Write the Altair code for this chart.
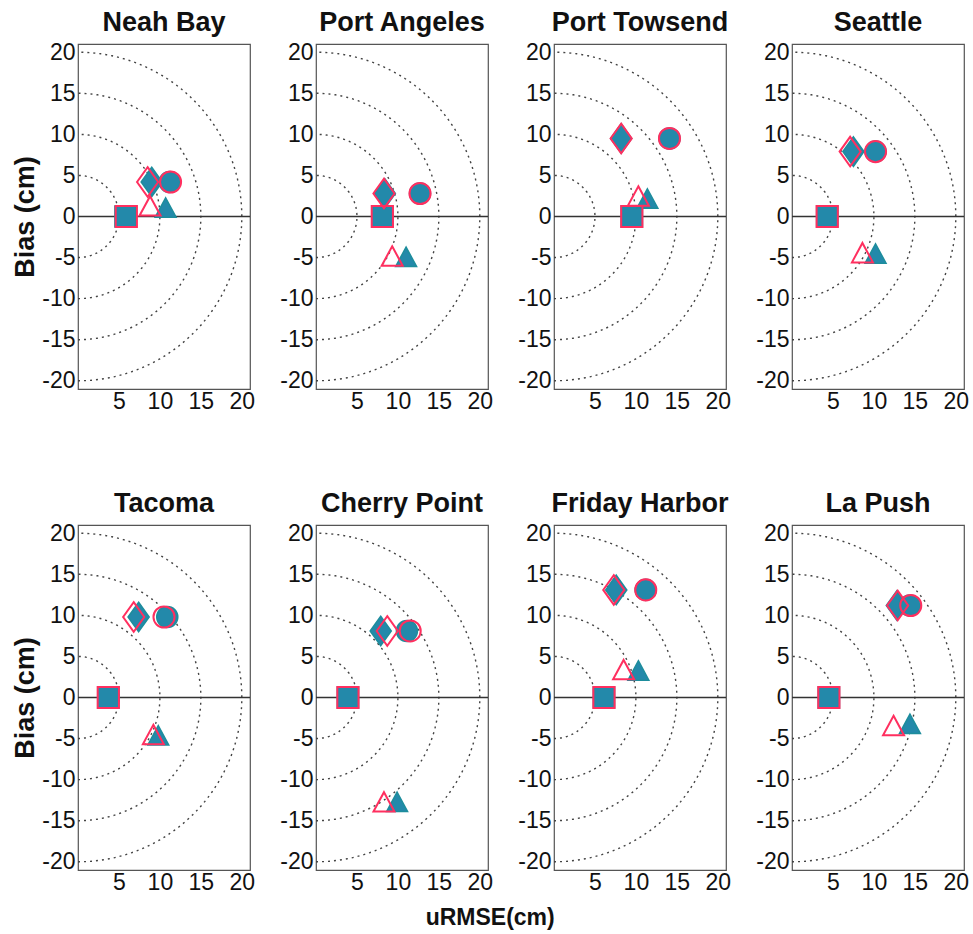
import altair as alt
import numpy as np
import pandas as pd

stations = ["Neah Bay", "Port Angeles", "Port Towsend", "Seattle",
            "Tacoma", "Cherry Point", "Friday Harbor", "La Push"]
shapes = ["square", "diamond", "circle", "triangle"]

# filled (teal) series, per station, in the order of `shapes`
teal_x = [[5.8, 9.0, 11.2, 10.7], [8.1, 8.4, 12.7, 11.0], [9.5, 8.2, 14.1, 11.4], [4.3, 7.5, 10.2, 10.2],
          [3.7, 7.4, 10.9, 9.8], [3.9, 7.9, 11.1, 9.9], [6.1, 7.6, 11.2, 10.3], [4.5, 12.8, 14.4, 14.4]]
teal_y = [[0, 4.2, 4.2, 1.0], [0, 2.8, 2.8, -5.0], [0, 9.5, 9.5, 2.1], [0, 7.9, 7.9, -4.6],
          [0, 9.8, 9.8, -4.7], [0, 8.1, 8.1, -12.8], [0, 13.1, 13.1, 3.2], [0, 11.2, 11.2, -3.3]]
# open (red) series
red_x = [[5.9, 8.5, 11.3, 8.8], [8.1, 8.3, 12.7, 9.3], [9.5, 8.2, 14.1, 10.3], [4.3, 7.1, 10.2, 8.6],
         [3.7, 6.8, 10.5, 9.2], [3.9, 8.7, 11.5, 8.3], [6.1, 7.3, 11.2, 8.5], [4.5, 12.9, 14.5, 12.4]]
red_y = [[0, 4.2, 4.2, 1.2], [0, 2.8, 2.8, -4.9], [0, 9.5, 9.5, 2.4], [0, 7.9, 7.9, -4.5],
         [0, 9.8, 9.8, -4.6], [0, 8.1, 8.1, -12.8], [0, 13.1, 13.1, 3.3], [0, 11.2, 11.2, -3.5]]

radii = [5, 10, 15, 20]
x_ticks = [5, 10, 15, 20]
y_ticks = [-20, -15, -10, -5, 0, 5, 10, 15, 20]

# reference semicircles (guides)
ang = np.linspace(-np.pi / 2, np.pi / 2, 181)
arc_rows = []
for r in radii:
    for i, a in enumerate(ang):
        arc_rows.append({"r": r, "i": i, "x": r * np.cos(a), "y": r * np.sin(a)})
arcs = pd.DataFrame(arc_rows)

TEAL = "#2389aa"
TEAL_EDGE = "#1d8d9c"
RED = "#ff2f5f"
FONT = "Liberation Sans"

shape_scale = alt.Scale(domain=shapes,
                        range=["square", "M0,-1.4L1,0L0,1.4L-1,0Z", "circle", "M0,-1L1,0.85L-1,0.85Z"])
size_scale = alt.Scale(domain=shapes, range=[450, 440, 500, 700])


def panel(k):
    xs = alt.Scale(domain=[0, 21], nice=False, zero=False)
    ys = alt.Scale(domain=[-21, 21], nice=False)
    xaxis = alt.Axis(values=x_ticks, ticks=False, grid=False, domain=False, labelPadding=1,
                     labelFontSize=23, labelColor="#111", labelFont=FONT, title=None,
                     labelExpr="'' + datum.value")
    yaxis = alt.Axis(values=y_ticks, ticks=False, grid=False, domain=False, labelPadding=3,
                     labelFontSize=23, labelColor="#111", labelFont=FONT,
                     labelExpr="'' + datum.value",
                     title="Bias (cm)" if k % 4 == 0 else None,
                     titleFontSize=27, titleFont=FONT, titleFontWeight="bold",
                     titleColor="#111", titlePadding=2)
    guides = alt.Chart(arcs).mark_line(strokeDash=[2, 4], color="#444", strokeWidth=1.4).encode(
        x=alt.X("x:Q", scale=xs, axis=xaxis),
        y=alt.Y("y:Q", scale=ys, axis=yaxis),
        detail="r:N",
        order="i:Q",
    )
    zero = alt.Chart(pd.DataFrame({"y": [0]})).mark_rule(color="#333", strokeWidth=1.3).encode(
        y=alt.Y("y:Q", scale=ys))
    dt = pd.DataFrame({"shape": shapes, "x": teal_x[k], "y": teal_y[k]})
    dr = pd.DataFrame({"shape": shapes, "x": red_x[k], "y": red_y[k]})
    teal = alt.Chart(dt).mark_point(filled=True, fill=TEAL, stroke=TEAL_EDGE, strokeWidth=1.5,
                                    opacity=1, fillOpacity=1).encode(
        x=alt.X("x:Q", scale=xs),
        y=alt.Y("y:Q", scale=ys),
        shape=alt.Shape("shape:N", scale=shape_scale, legend=None),
        size=alt.Size("shape:N", scale=size_scale, legend=None),
    )
    red = alt.Chart(dr).mark_point(filled=False, stroke=RED, strokeWidth=2, opacity=1).encode(
        x=alt.X("x:Q", scale=xs),
        y=alt.Y("y:Q", scale=ys),
        shape=alt.Shape("shape:N", scale=shape_scale, legend=None),
        size=alt.Size("shape:N", scale=size_scale, legend=None),
    )
    return alt.layer(guides, zero, teal, red).properties(
        width=172, height=345,
        title=alt.TitleParams(stations[k], fontSize=27, fontWeight="bold", font=FONT,
                              color="#111", offset=4, frame="group", anchor="middle"),
    )


row1 = alt.hconcat(*[panel(k) for k in range(4)], spacing=23)
row2 = alt.hconcat(*[panel(k) for k in range(4, 8)], spacing=23)

chart = alt.vconcat(row1, row2, spacing=75).properties(
    title=alt.TitleParams("uRMSE(cm)", orient="bottom", anchor="middle", fontSize=23,
                          fontWeight="bold", font=FONT, color="#111", offset=12),
    padding={"left": 11, "top": 8, "right": 2, "bottom": 2},
).configure(background="white").configure_view(stroke="#555", strokeWidth=1.2)

chart.save("out.html", embed_options={"renderer": "svg", "actions": False})
